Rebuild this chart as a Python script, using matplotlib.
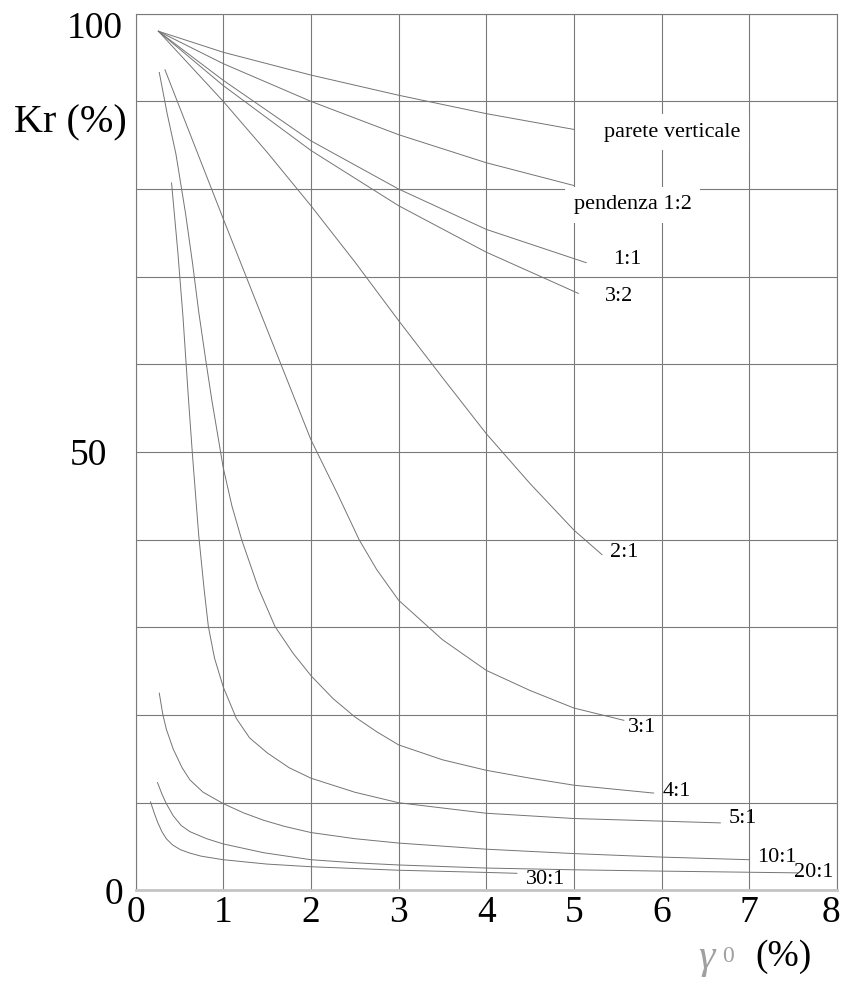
import matplotlib
matplotlib.use('Agg')
import matplotlib.pyplot as plt
from matplotlib.transforms import ScaledTranslation

# ---------------- data ----------------
pv_x = [0.26, 1.0, 2.0, 3.0, 4.0, 5.0]
pv_y = [98.0, 95.6, 93.0, 90.7, 88.6, 86.8]

p12_x = [0.26, 1.0, 2.0, 3.0, 4.0, 5.0]
p12_y = [98.0, 94.3, 90.0, 86.2, 83.0, 80.4]

p11_x = [0.26, 1.0, 2.0, 3.0, 4.0, 5.14]
p11_y = [98.0, 92.4, 85.5, 80.0, 75.4, 71.6]

p32_x = [0.26, 1.0, 2.0, 3.0, 4.0, 5.05]
p32_y = [98.0, 91.8, 84.4, 78.1, 72.8, 68.1]

p21_x = [0.26, 1.0, 1.5, 2.0, 2.5, 3.0, 3.5, 4.0, 4.5, 5.0, 5.32]
p21_y = [98.0, 90.0, 84.2, 78.1, 71.7, 65.0, 58.5, 52.1, 46.4, 41.1, 38.3]

p31_x = [0.335, 1.0, 1.42, 2.0, 2.3, 2.55, 2.75, 3.0, 3.5, 4.0, 4.5, 5.0, 5.57]
p31_y = [93.6, 76.6, 66.0, 51.4, 45.3, 40.0, 36.6, 33.1, 28.6, 25.1, 22.8, 20.8, 19.4]

p41_x = [0.27, 0.36, 0.46, 0.57, 0.65, 0.72, 0.80, 0.87, 1.0, 1.1, 1.21, 1.4, 1.59,
         1.8, 2.0, 2.25, 2.5, 2.75, 3.0, 3.5, 4.0, 4.5, 5.0, 5.91]
p41_y = [93.3, 88.6, 84.0, 77.2, 71.5, 66.0, 60.5, 55.9, 48.2, 43.8, 40.0, 34.5, 30.1,
         27.0, 24.5, 21.9, 19.8, 18.1, 16.6, 14.9, 13.7, 12.8, 12.0, 11.1]

p51_x = [0.41, 0.48, 0.54, 0.60, 0.65, 0.72, 0.78, 0.83, 0.90, 1.0, 1.15, 1.3, 1.5,
         1.75, 2.0, 2.5, 3.0, 4.0, 5.0, 6.67]
p51_y = [80.7, 73.0, 65.5, 56.5, 49.5, 40.5, 34.5, 30.1, 26.5, 23.2, 19.6, 17.4, 15.7,
         14.0, 12.8, 11.2, 10.0, 8.8, 8.2, 7.7]

p101_x = [0.27, 0.31, 0.35, 0.43, 0.53, 0.62, 0.77, 1.0, 1.23, 1.46, 1.7, 2.0, 2.5,
          3.0, 4.0, 5.0, 6.0, 7.0]
p101_y = [22.5, 20.1, 18.4, 16.1, 14.0, 12.6, 11.2, 9.9, 8.85, 8.0, 7.3, 6.6, 5.9,
          5.4, 4.7, 4.2, 3.8, 3.5]

p201_x = [0.25, 0.30, 0.35, 0.43, 0.52, 0.62, 0.81, 1.0, 1.46, 2.0, 2.5, 3.0, 4.0,
          5.0, 6.0, 7.55]
p201_y = [12.3, 11.0, 9.9, 8.5, 7.4, 6.7, 5.9, 5.3, 4.3, 3.5, 3.15, 2.9, 2.55,
          2.35, 2.2, 2.0]

p301_x = [0.17, 0.21, 0.25, 0.30, 0.35, 0.42, 0.51, 0.62, 0.75, 1.0, 1.5, 2.0, 3.0,
          4.0, 4.35]
p301_y = [10.1, 8.9, 7.8, 6.7, 5.9, 5.2, 4.65, 4.25, 3.9, 3.5, 3.0, 2.7, 2.3,
          2.05, 1.95]

series = [
    (pv_x, pv_y), (p12_x, p12_y), (p11_x, p11_y), (p32_x, p32_y),
    (p21_x, p21_y), (p31_x, p31_y), (p41_x, p41_y), (p51_x, p51_y),
    (p101_x, p101_y), (p201_x, p201_y), (p301_x, p301_y),
]

curve_labels = ["parete verticale", "pendenza 1:2", "1:1", "3:2", "2:1",
                "3:1", "4:1", "5:1", "10:1", "20:1", "30:1"]
label_pos = [(6.12, 86.5), (5.67, 78.2), (5.61, 72.0), (5.51, 67.7), (5.57, 38.5),
             (5.78, 18.6), (6.17, 11.3), (6.93, 8.2), (7.32, 3.8), (7.74, 2.0), (4.68, 1.2)]
boxed = {"parete verticale", "pendenza 1:2"}

x_ticks = list(range(0, 9))
x_ticklabels = [str(v) for v in x_ticks]
y_ticks = list(range(0, 101, 10))
y_ticklabels = ["0", "", "", "", "", "50", "", "", "", "", "100"]

# ---------------- figure ----------------
W, H = 847, 984
SERIF = ["Liberation Serif", "DejaVu Serif"]
plt.rcParams['font.family'] = SERIF

fig = plt.figure(figsize=(W / 100, H / 100), dpi=100)
fig.patch.set_facecolor('white')
L, R, T, B = 135.6, 836.9, 13.7, 890.4
ax = fig.add_axes([L / W, 1 - B / H, (R - L) / W, (B - T) / H])
ax.set_xlim(0, 8)
ax.set_ylim(0, 100)

ax.set_xticks(x_ticks)
ax.set_xticklabels(x_ticklabels, fontsize=27)
ax.set_yticks(y_ticks)
ax.set_yticklabels(y_ticklabels, fontsize=27)
ax.tick_params(axis='both', length=0)
ax.tick_params(axis='x', pad=4)
ax.tick_params(axis='y', pad=9)
ax.grid(True, color='#7a7a7a', linewidth=0.8, zorder=0)
ax.set_axisbelow(True)

for s in ['top', 'left', 'right']:
    ax.spines[s].set_color('#7a7a7a')
    ax.spines[s].set_linewidth(0.8)
ax.spines['bottom'].set_color('#c4c4c4')
ax.spines['bottom'].set_linewidth(2.0)

# shift individual tick labels like the reference drawing
for lab in ax.get_yticklabels():
    t = lab.get_text()
    if t == "100":
        lab.set_transform(lab.get_transform() + ScaledTranslation(0, -11 / 100, fig.dpi_scale_trans))
    elif t == "50":
        lab.set_transform(lab.get_transform() + ScaledTranslation(-16 / 100, 0, fig.dpi_scale_trans))
for lab in ax.get_xticklabels():
    if lab.get_text() == "8":
        lab.set_transform(lab.get_transform() + ScaledTranslation(-6 / 100, 0, fig.dpi_scale_trans))

for xs, ys in series:
    ax.plot(xs, ys, color='#747474', linewidth=0.7, zorder=3,
            solid_joinstyle='round', antialiased=True)

for name, (lx, ly) in zip(curve_labels, label_pos):
    kw = dict(fontsize=16, ha='center', va='center', zorder=4, color='black')
    if name in boxed:
        kw['bbox'] = dict(facecolor='white', edgecolor='none', pad=6)
    ax.text(lx, ly, name, **kw)

# axis titles
fig.text(70 / W, 1 - 123 / H, "Kr (%)", fontsize=29, ha='center', va='center')
fig.text(706 / W, 1 - 958 / H, "γ", fontsize=30, style='italic', color='#a0a0a0',
         ha='center', va='center')
fig.text(728 / W, 1 - 957 / H, "0", fontsize=17, color='#a0a0a0', ha='center', va='center')
fig.text(783 / W, 1 - 957 / H, "(%)", fontsize=27, ha='center', va='center')

fig.savefig('out.png', dpi=100, facecolor='white')
